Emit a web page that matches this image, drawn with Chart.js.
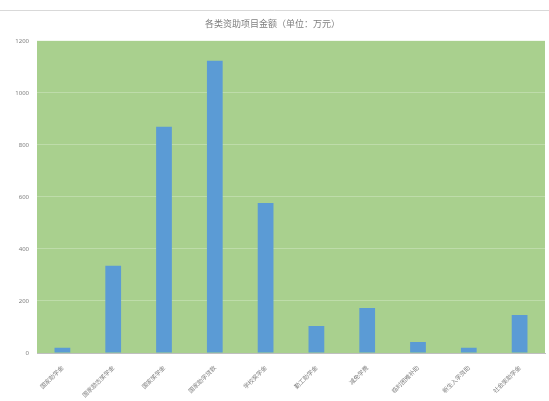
<!DOCTYPE html>
<html>
<head>
<meta charset="utf-8">
<script src="https://cdn.jsdelivr.net/npm/chart.js@4/dist/chart.umd.min.js"></script>
<style>
  html, body { margin: 0; padding: 0; background: #fff; }
  canvas { display: block; }
</style>
</head>
<body>
<canvas id="chart" width="549" height="401"></canvas>
<script>
var categories = ['国家助学金', '国家励志奖学金', '国家奖学金', '国家助学贷款', '学校奖学金', '勤工助学金', '减免学费', '临时困难补助', '新生入学资助', '社会奖助学金'];
var amounts = [20, 335, 870, 1123, 577, 104, 173, 42, 20, 146];
var yTicks = [0, 200, 400, 600, 800, 1000, 1200];

// green fill behind the plot area
var plotBg = {
  id: 'plotBg',
  beforeDraw: function(chart) {
    var a = chart.chartArea;
    var ctx = chart.ctx;
    ctx.save();
    ctx.fillStyle = '#a9d08e';
    ctx.fillRect(a.left, a.top, a.right - a.left, a.bottom - a.top);
    ctx.strokeStyle = '#d9d9d9';
    ctx.lineWidth = 1;
    ctx.beginPath();
    ctx.moveTo(0, 10.5);
    ctx.lineTo(chart.width, 10.5);
    ctx.stroke();
    ctx.restore();
  }
};

var ctx = document.getElementById('chart');
var myChart = new Chart(ctx, {
  type: 'bar',
  data: {
    labels: categories,
    datasets: [{
      label: '金额',
      data: amounts,
      backgroundColor: '#5b9bd5',
      barPercentage: 0.31,
      categoryPercentage: 1
    }]
  },
  options: {
    responsive: false,
    animation: false,
    layout: { padding: { left: 0, right: 4, top: 0, bottom: 0 } },
    plugins: {
      legend: { display: false },
      tooltip: { enabled: false },
      title: {
        display: true,
        text: '各类资助项目金额（单位：万元）',
        color: '#7f7f7f',
        font: { family: 'Noto Sans CJK SC', size: 9, weight: 'normal' },
        padding: { top: 18, bottom: 12 }
      }
    },
    scales: {
      x: {
        grid: { display: false },
        border: { color: '#bfbfbf' },
        ticks: {
          color: '#7f7f7f',
          font: { family: 'Noto Sans CJK SC', size: 6 },
          maxRotation: 45,
          minRotation: 45,
          autoSkip: false
        },
        afterFit: function(axis) { axis.height = 48; }
      },
      y: {
        min: 0,
        max: 1200,
        afterBuildTicks: function(axis) {
          axis.ticks = yTicks.map(function(v) { return { value: v }; });
        },
        grid: { color: 'rgba(255,255,255,0.25)', drawTicks: false },
        border: { display: false },
        ticks: {
          color: '#7f7f7f',
          font: { family: 'Noto Sans', size: 6 },
          padding: 8,
          callback: function(v) { return String(v); }
        },
        afterFit: function(axis) { axis.width = 37; }
      }
    }
  },
  plugins: [plotBg]
});
</script>
</body>
</html>
